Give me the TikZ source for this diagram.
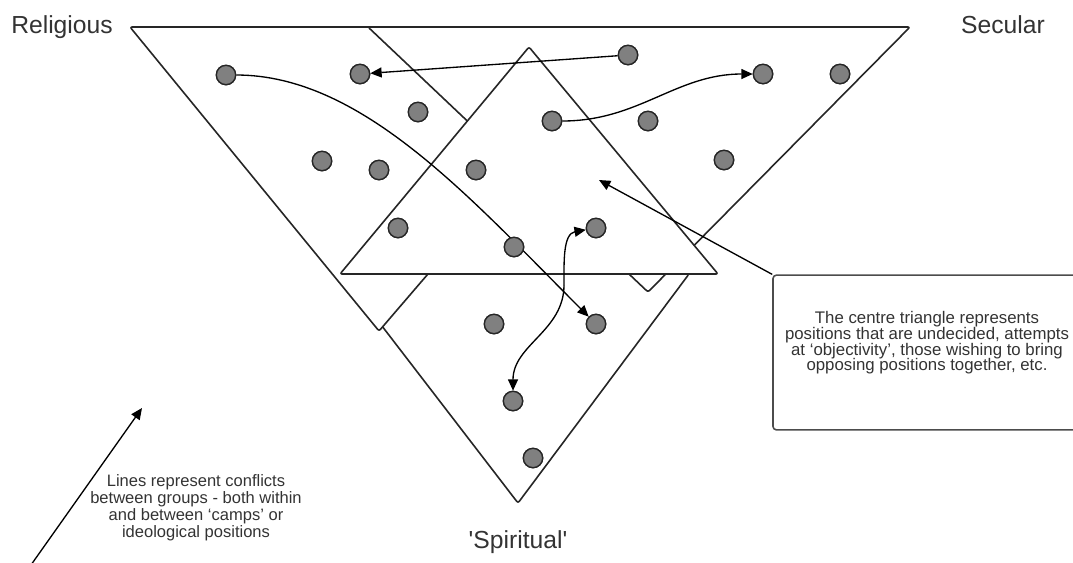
\documentclass[tikz,border=0pt]{standalone}
\usepackage{fontspec}
\setmainfont{Liberation Sans}
\usetikzlibrary{arrows.meta}
\setlength{\lineskiplimit}{-6pt}
\definecolor{inkgray}{RGB}{38,38,38}
\definecolor{dotgray}{RGB}{128,128,128}
\definecolor{textgray}{RGB}{51,51,51}
\tikzset{
    camp/.style={draw=inkgray, fill=white, line width=1.2pt, rounded corners=1.5pt},
    group/.style={circle, draw=inkgray, fill=dotgray, line width=1pt, minimum size=14.5pt, inner sep=0pt},
    conflict/.style={draw=black, line width=1pt, -{Triangle[length=8.5pt, width=7.5pt]}},
    campname/.style={anchor=base, text=textgray, font=\fontsize{18.5}{22}\selectfont},
    notebox/.style={draw=black!70, line width=1.2pt, rounded corners=2.5pt, minimum width=231pt, minimum height=116pt},
    notetext/.style={align=center, text=textgray, font=\fontsize{12.6}{11.8}\selectfont}
}

\begin{document}
\begin{tikzpicture}[x=0.75pt, y=0.75pt, line join=round]
        \useasboundingbox (0,0) rectangle (1073,-562);

        \tikzset{
            legendtext/.style={align=center, text=textgray, font=\fontsize{12.4}{12.8}\selectfont}
        }

        % -----------------------------------------------------------------
        % CAMPS (the later triangle covers the earlier one)
        % -----------------------------------------------------------------
        % 'Spiritual'
        \draw[camp] (342,-274) -- (689,-274) -- (518,-503) -- cycle;
        % Religious
        \draw[camp] (130,-27) -- (640,-27) -- (379,-331) -- cycle;
        % Secular
        \draw[camp] (368,-27) -- (910,-27) -- (648,-292) -- cycle;
        % Centre: undecided positions
        \draw[camp] (340,-274) -- (718,-274) -- (529,-47) -- cycle;

        % Camp names
        \node[campname] (lbl_rel) at (62,-33) {Religious};
        \node[campname] (lbl_sec) at (1003,-33) {Secular};
        \node[campname] (lbl_spi) at (518,-548) {\textquotesingle Spiritual\textquotesingle};

        % =================================================================
        % GROUPS
        % =================================================================
        % Religious area
        \coordinate (p_r1) at (226,-75);
        \coordinate (p_r2) at (360,-74);
        \coordinate (p_r3) at (418,-112);
        \coordinate (p_r4) at (322,-161);
        \coordinate (p_r5) at (379,-170);
        \coordinate (p_r6) at (398,-228);
        % Centre area
        \coordinate (p_c1) at (476,-170);
        \coordinate (p_c2) at (552,-121);
        \coordinate (p_c3) at (514,-247);
        \coordinate (p_c4) at (596,-228);
        % Secular area
        \coordinate (p_s1) at (628,-55);
        \coordinate (p_s2) at (648,-121);
        \coordinate (p_s3) at (763,-74);
        \coordinate (p_s4) at (840,-74);
        \coordinate (p_s5) at (724,-160);
        % Spiritual area
        \coordinate (p_p1) at (494,-324);
        \coordinate (p_p2) at (596,-324);
        \coordinate (p_p3) at (513,-401);
        \coordinate (p_p4) at (533,-458);

        \foreach \g in {r1,r2,r3,r4,r5,r6,c1,c2,c3,c4,s1,s2,s3,s4,s5,p1,p2,p3,p4}
            \node[group] (g_\g) at (p_\g) {};

        % =================================================================
        % CONFLICTS
        % =================================================================
        \draw[conflict] (g_s1) -- (g_r2);
        \draw[conflict] (g_c2) to[out=0, in=180] (g_s3);
        \draw[conflict] (g_r1) to[out=0, in=135, out looseness=0.75] (g_p2);

        % Both ways, centre <-> spiritual
        \coordinate (swerve) at (564,-285);
        \draw[conflict, {Triangle[length=8.5pt, width=7.5pt]}-] (g_c4) to[out=190, in=90] (swerve);
        \draw[conflict] (swerve) to[out=-90, in=90] (g_p3);

        % Groups again on top of the lines
        \foreach \g in {r1,r2,r3,r4,r5,r6,c1,c2,c3,c4,s1,s2,s3,s4,s5,p1,p2,p3,p4}
            \node[group] at (p_\g) {};

        % -----------------------------------------------------------------
        % NOTES
        % -----------------------------------------------------------------
        \node[notebox] (note) at (927,-352.5) {};
        \node[notetext] (note_txt) at (927,-343) {The centre triangle represents\\positions that are undecided, attempts\\at `objectivity', those wishing to bring\\opposing positions together, etc.};
        \coordinate (undecided) at (599,-180);
        \draw[conflict] (note.north west) -- (undecided);

        \node[legendtext] (legend_txt) at (196,-508) {Lines represent conflicts\\between groups - both within\\and between `camps' or\\ideological positions};
        \coordinate (legend_tail) at (26,-572);
        \coordinate (legend_tip) at (142,-408);
        \draw[conflict] (legend_tail) -- (legend_tip);

    \end{tikzpicture}
\end{document}
